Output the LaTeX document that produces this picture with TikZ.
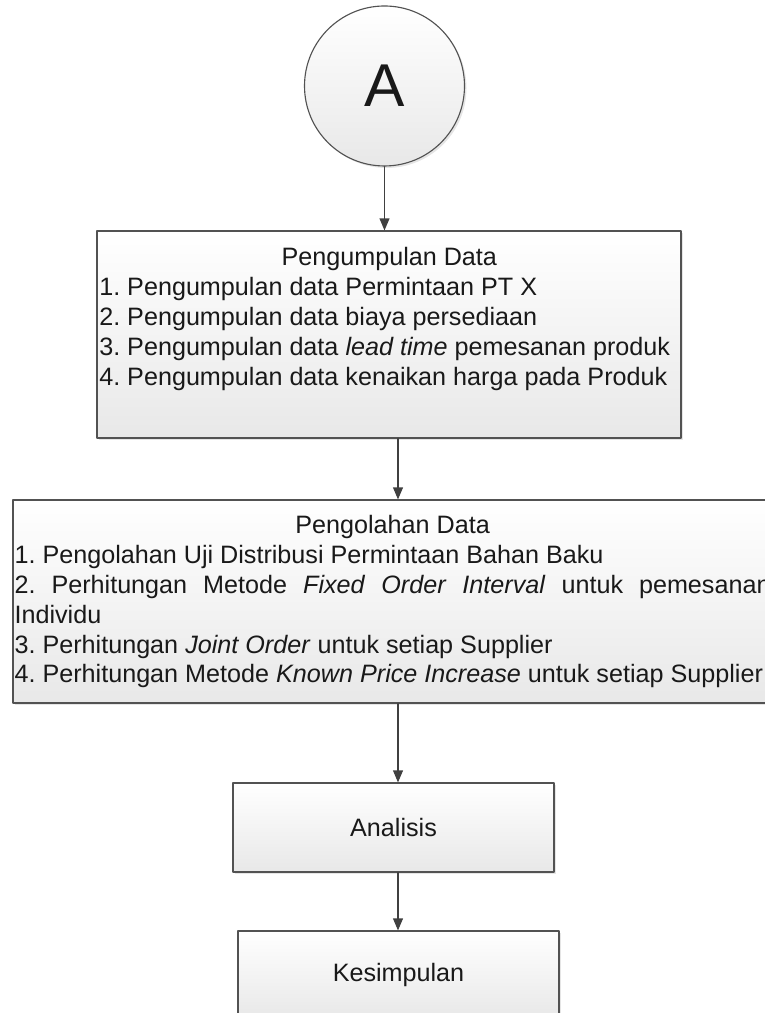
\documentclass[tikz,border=0pt]{standalone}
\usepackage{fontspec}
\setmainfont{Liberation Sans}
\usetikzlibrary{arrows.meta,shadows}

\begin{document}
\begin{tikzpicture}[line cap=round,line join=round,
  every node/.style={inner sep=0pt,font=\fontsize{17.9pt}{21.3pt}\selectfont,text=black!90},
  kotak/.style={draw=black!68,line width=0.8pt,rectangle,top color=white,bottom color=black!9,
    drop shadow={shadow xshift=0.05cm,shadow yshift=-0.05cm,opacity=0.25,fill=black!40}},
  panah/.style={draw=black!75,line width=0.8pt,-{Triangle[length=8.5pt,width=7pt]}}]
  \useasboundingbox (0,0) rectangle (19.1,25.325);
  % 圆 A
  \node[kotak,circle,minimum size=4cm,font=\fontsize{43pt}{50pt}\selectfont] (lingA) at (9.6125,23.175) {A};
  % 方框
  \node[kotak,minimum width=14.6cm,minimum height=5.175cm] (kumpul) at (9.725,16.9625) {};
  \node[kotak,minimum width=18.975cm,minimum height=5.075cm] (olah) at (9.8125,10.2875) {};
  \node[kotak,minimum width=8.025cm,minimum height=2.225cm] (analisis) at (9.8375,4.6375) {Analisis};
  \node[kotak,minimum width=8.025cm,minimum height=2.175cm] (simpul) at (9.9625,0.9625) {Kesimpulan};
  % 文字
  \node[anchor=north west,text width=14.5cm,align=left] (teks1) at (2.475,19.15) {%
    \spaceskip=0pt\xspaceskip=0pt\frenchspacing
    \makebox[14.5cm]{Pengumpulan Data}\\
    1. Pengumpulan data Permintaan PT X\\
    2. Pengumpulan data biaya persediaan\\
    3. Pengumpulan data \textit{lead time} pemesanan produk\\
    4. Pengumpulan data kenaikan harga pada Produk};
  \node[anchor=north west,text width=18.9cm,align=left] (teks2) at (0.3575,12.456) {%
    \spaceskip=0pt\xspaceskip=0pt\frenchspacing
    \makebox[18.9cm]{Pengolahan Data}\\
    1. Pengolahan Uji Distribusi Permintaan Bahan Baku\\
    \makebox[18.9cm][s]{2.\hfill Perhitungan\hfill Metode\hfill \textit{Fixed}\hfill \textit{Order}\hfill \textit{Interval}\hfill untuk\hfill pemesanan}\\
    Individu\\
    3. Perhitungan \textit{Joint Order} untuk setiap Supplier\\
    4. Perhitungan Metode \textit{Known Price Increase} untuk setiap Supplier};
  % 箭头
  \coordinate (sumbu) at (9.95,0);
  \draw[panah] (lingA) -- (lingA |- kumpul.north);
  \draw[panah] (kumpul.south -| sumbu) -- (olah.north -| sumbu);
  \draw[panah] (olah.south -| sumbu) -- (analisis.north -| sumbu);
  \draw[panah] (analisis.south -| sumbu) -- (simpul.north -| sumbu);
\end{tikzpicture}
\end{document}
